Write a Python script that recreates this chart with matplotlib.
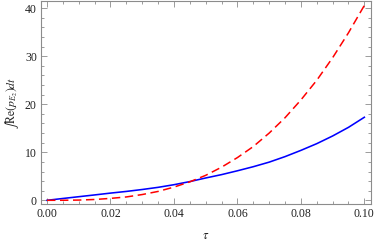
import matplotlib
matplotlib.use("Agg")
import matplotlib.pyplot as plt
from matplotlib.ticker import MultipleLocator

tau = [0.000, 0.005, 0.010, 0.015, 0.020, 0.025, 0.030, 0.035, 0.040, 0.045,
       0.050, 0.055, 0.060, 0.065, 0.070, 0.075, 0.080, 0.085, 0.090, 0.095, 0.100]
blue_vals = [0.0, 0.38, 0.75, 1.12, 1.5, 1.85, 2.25, 2.7, 3.25, 3.9,
             4.65, 5.35, 6.15, 7.0, 7.95, 9.1, 10.4, 11.8, 13.4, 15.2, 17.3]
red_vals = [0.0, 0.01, 0.05, 0.17, 0.4, 0.7, 1.2, 1.85, 2.75, 3.85,
            5.2, 6.9, 8.9, 11.2, 14.0, 17.2, 20.9, 25.0, 29.7, 34.9, 40.6]
xticks = [0.00, 0.02, 0.04, 0.06, 0.08, 0.10]
xticklabels = ["0.00", "0.02", "0.04", "0.06", "0.08", "0.10"]
yticks = [0, 10, 20, 30, 40]

plt.rcParams['font.family'] = ['Liberation Serif', 'DejaVu Serif']
plt.rcParams['mathtext.fontset'] = 'stix'

fig = plt.figure(figsize=(3.74, 2.41), dpi=100)
ax = fig.add_axes([41/374, 1-204/241, (370.7-41)/374, (204-0.7)/241])

ax.plot(tau, blue_vals, color=(0, 0, 1), lw=1.15)
ax.plot(tau, red_vals, color=(1, 0, 0), lw=1.1, dashes=(5.5, 3))

ax.set_xlim(-0.0019, 0.1020)
ax.set_ylim(-0.77, 41.58)
ax.set_xticks(xticks)
ax.set_xticklabels(xticklabels)
ax.set_yticks(yticks)
ax.xaxis.set_minor_locator(MultipleLocator(0.005))
ax.yaxis.set_minor_locator(MultipleLocator(2))

frame_col = '#8c8c8c'
for s in ax.spines.values():
    s.set_color(frame_col)
    s.set_linewidth(0.8)
ax.tick_params(which='both', direction='in', top=True, right=True,
               color=frame_col, width=0.6, labelsize=8.5, labelcolor='#222222')
ax.tick_params(which='major', length=4, pad=3)
ax.tick_params(which='minor', length=2)

ax.set_xlabel(r'$\tau$', fontsize=9, labelpad=7, color='#222222')
ax.set_ylabel(r'$\int\mathrm{Re}(p_{E_2})dt$', fontsize=8.5, labelpad=2.5, color='#222222')

fig.savefig("out.png", dpi=100)
